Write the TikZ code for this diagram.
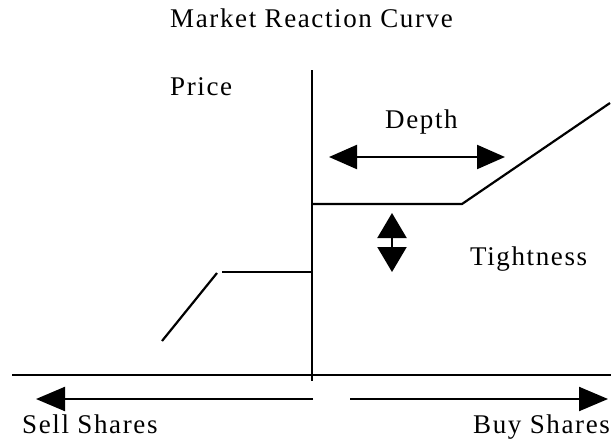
\documentclass[tikz,border=0pt]{standalone}
\usepackage{fontspec}
\setmainfont[LetterSpace=6]{Liberation Serif}
\usetikzlibrary{arrows.meta}
\tikzset{
  lbl/.style={anchor=base west, inner sep=0pt, font=\fontsize{27}{32}\selectfont},
  ln/.style={line width=2.2pt},
  dbl/.style={line width=2.2pt, {Triangle[length=28pt,width=24pt]}-{Triangle[length=28pt,width=24pt]}},
  tgt/.style={line width=2.2pt, {Triangle[length=25pt,width=29pt]}-{Triangle[length=25pt,width=29pt]}},
  sgl/.style={line width=2.2pt, -{Triangle[length=29pt,width=24pt]}}
}
\begin{document}
\begin{tikzpicture}[x=1pt,y=-1pt]
\useasboundingbox (0,0) rectangle (611,442);
% texts
\node[lbl] (title) at (170,27) {Market Reaction Curve};
\node[lbl] (price) at (170,95) {Price};
\node[lbl] (depth) at (385,128) {Depth};
\node[lbl] (tight) at (470,265) {Tightness};
\node[lbl] (sell) at (22,433) {Sell Shares};
\node[lbl] (buy) at (473,433) {Buy Shares};
% axes
\coordinate (vtop) at (312,70);
\coordinate (vbot) at (312,381);
\coordinate (hl) at (12,375);
\coordinate (hr) at (611,375);
\draw[ln] (vtop) -- (vbot);
\draw[ln] (hl) -- (hr);
% upper curve
\coordinate (u0) at (312,204);
\coordinate (u1) at (462,204);
\coordinate (u2) at (610,103);
\draw[ln] (u0) -- (u1) -- (u2);
% lower curve
\coordinate (l0) at (312,272);
\coordinate (l1) at (222,272);
\coordinate (d0) at (217,273);
\coordinate (d1) at (162,341);
\draw[ln] (l0) -- (l1);
\draw[ln] (d0) -- (d1);
% depth arrow
\coordinate (da) at (329,157);
\coordinate (db) at (505,157);
\draw[dbl] (da) -- (db);
% tightness arrow
\coordinate (ta) at (392,213);
\coordinate (tb) at (392,272);
\draw[tgt] (ta) -- (tb);
% sell / buy arrows
\coordinate (s0) at (313,399);
\coordinate (s1) at (36,399);
\coordinate (b0) at (350,399);
\coordinate (b1) at (608,399);
\draw[sgl] (s0) -- (s1);
\draw[sgl] (b0) -- (b1);
\end{tikzpicture}
\end{document}
